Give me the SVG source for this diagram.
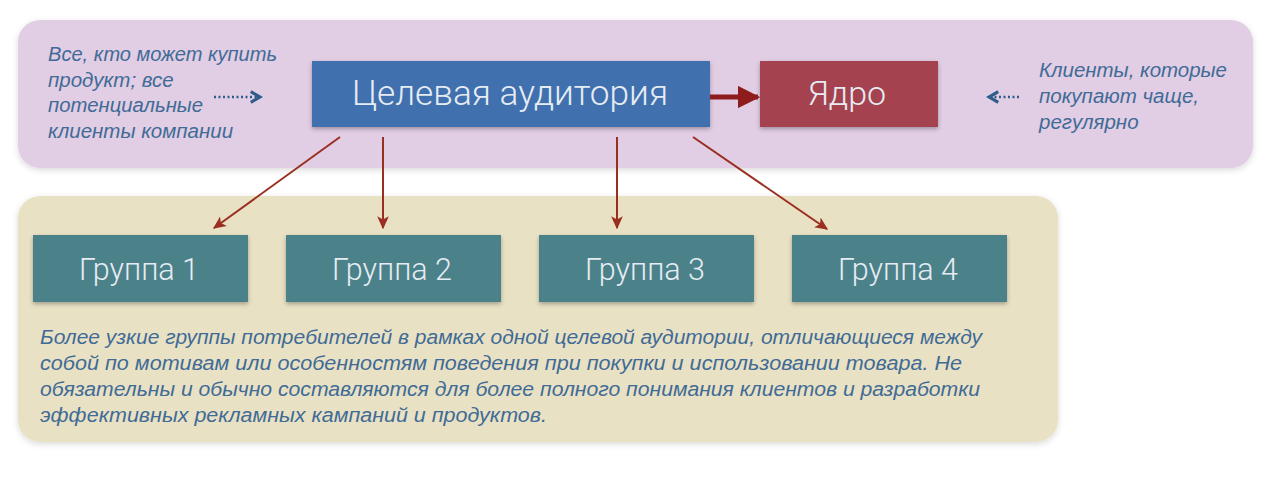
<svg xmlns="http://www.w3.org/2000/svg" width="1280" height="479" viewBox="0 0 1280 479">
<defs>
<filter id="sh" x="-10%" y="-10%" width="120%" height="130%">
<feDropShadow dx="0" dy="2" stdDeviation="2" flood-color="#000" flood-opacity="0.3"/>
</filter>
<filter id="psh" x="-5%" y="-5%" width="110%" height="115%">
<feDropShadow dx="0" dy="2" stdDeviation="3" flood-color="#000" flood-opacity="0.15"/>
</filter>
<marker id="ah" viewBox="0 0 10 10" refX="9" refY="5" markerWidth="6.5" markerHeight="6.5" orient="auto" markerUnits="strokeWidth">
<path d="M0,0.5 L10,5 L0,9.5 L2.5,5 Z" fill="#9a2e20"/>
</marker>
<marker id="ahbig" viewBox="0 0 10 10" refX="9" refY="5" markerWidth="4.5" markerHeight="4.5" orient="auto" markerUnits="strokeWidth">
<path d="M0,0 L10,5 L0,10 Z" fill="#8e1c1c"/>
</marker>
<marker id="dot" viewBox="0 0 10 10" refX="8" refY="5" markerWidth="5.5" markerHeight="5.5" orient="auto" markerUnits="strokeWidth">
<path d="M1,1 L8,5 L1,9" fill="none" stroke="#2f5d8a" stroke-width="2.4"/>
</marker>
</defs>
<style>
.note{font-family:"Liberation Sans",Arial,sans-serif;font-style:italic;font-size:20.5px;fill:#3f6b96}
.lbl{font-family:Roboto,"Liberation Sans",sans-serif;font-weight:300;fill:#e6ecf3}
.grp{fill:#4b8189}
.ln{stroke:#9a2e20;stroke-width:2;fill:none}
</style>
<rect id="panel-top" x="18" y="20" width="1235" height="148" rx="22" fill="#e1cde4" filter="url(#psh)"/>
<rect id="panel-bottom" x="18" y="196" width="1040" height="246" rx="22" fill="#e9e1c4" filter="url(#psh)"/>
<g id="note-left">
<text class="note" x="48" y="61" textLength="229" lengthAdjust="spacingAndGlyphs">Все, кто может купить</text>
<text class="note" x="48" y="86.5">продукт; все</text>
<text class="note" x="48" y="112" textLength="155" lengthAdjust="spacingAndGlyphs">потенциальные</text>
<text class="note" x="48" y="137.5">клиенты компании</text>
</g>
<g id="note-right">
<text class="note" x="1039" y="77" textLength="188" lengthAdjust="spacingAndGlyphs">Клиенты, которые</text>
<text class="note" x="1039" y="103">покупают чаще,</text>
<text class="note" x="1039" y="129">регулярно</text>
</g>
<g id="note-bottom">
<text class="note" x="40" y="344" textLength="942" lengthAdjust="spacingAndGlyphs">Более узкие группы потребителей в рамках одной целевой аудитории, отличающиеся между</text>
<text class="note" x="40" y="370" textLength="922" lengthAdjust="spacingAndGlyphs">собой по мотивам или особенностям поведения при покупки и использовании товара. Не</text>
<text class="note" x="40" y="396" textLength="940" lengthAdjust="spacingAndGlyphs">обязательны и обычно составляются для более полного понимания клиентов и разработки</text>
<text class="note" x="40" y="422" textLength="507" lengthAdjust="spacingAndGlyphs">эффективных рекламных кампаний и продуктов.</text>
</g>
<g id="target">
<rect x="312" y="61" width="398" height="66" fill="#4170ad" filter="url(#sh)"/>
<text class="lbl" x="510" y="105" font-size="35" text-anchor="middle" textLength="316" lengthAdjust="spacingAndGlyphs">Целевая аудитория</text>
</g>
<g id="core">
<rect x="760" y="61" width="178" height="66" fill="#a5434f" filter="url(#sh)"/>
<text class="lbl" x="847" y="105" font-size="34" text-anchor="middle">Ядро</text>
</g>
<g id="group1">
<rect class="grp" x="33" y="235" width="215" height="67" filter="url(#sh)"/>
<text class="lbl" x="139" y="280" font-size="30.5" text-anchor="middle">Группа 1</text>
</g>
<g id="group2">
<rect class="grp" x="286" y="235" width="215" height="67" filter="url(#sh)"/>
<text class="lbl" x="392" y="280" font-size="30.5" text-anchor="middle">Группа 2</text>
</g>
<g id="group3">
<rect class="grp" x="539" y="235" width="215" height="67" filter="url(#sh)"/>
<text class="lbl" x="645" y="280" font-size="30.5" text-anchor="middle">Группа 3</text>
</g>
<g id="group4">
<rect class="grp" x="792" y="235" width="215" height="67" filter="url(#sh)"/>
<text class="lbl" x="898" y="280" font-size="30.5" text-anchor="middle">Группа 4</text>
</g>
<g id="connectors">
<line x1="710" y1="97" x2="758" y2="97" stroke="#8e1c1c" stroke-width="5" marker-end="url(#ahbig)"/>
<line class="ln" x1="340" y1="137" x2="214" y2="228" marker-end="url(#ah)"/>
<line class="ln" x1="383" y1="137" x2="383" y2="228" marker-end="url(#ah)"/>
<line class="ln" x1="617" y1="137" x2="617" y2="228" marker-end="url(#ah)"/>
<line class="ln" x1="693" y1="137" x2="827" y2="229" marker-end="url(#ah)"/>
<line x1="214" y1="97" x2="260" y2="97" stroke="#2f5d8a" stroke-width="2.4" stroke-dasharray="2 2.5" marker-end="url(#dot)"/>
<line x1="1019" y1="97" x2="989" y2="97" stroke="#2f5d8a" stroke-width="2.4" stroke-dasharray="2 2.5" marker-end="url(#dot)"/>
</g>
</svg>
